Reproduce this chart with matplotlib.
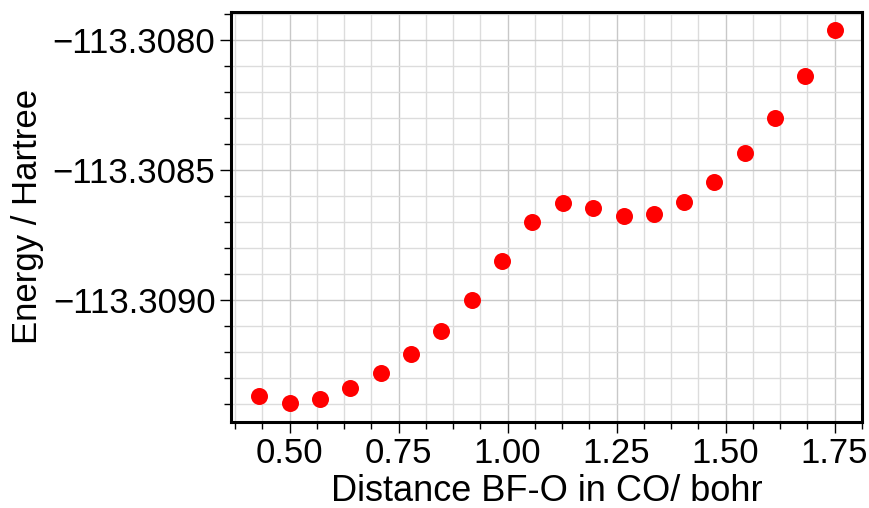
import numpy as np
import matplotlib
matplotlib.use("Agg")
import matplotlib.pyplot as plt
from matplotlib.ticker import MultipleLocator, AutoMinorLocator, ScalarFormatter

# distance BF-O in CO (bohr) and total energy (Hartree)
distance = [0.431, 0.502, 0.570, 0.639, 0.710, 0.778, 0.848, 0.918, 0.987, 1.057,
            1.126, 1.196, 1.266, 1.335, 1.404, 1.474, 1.544, 1.613, 1.682, 1.752]
energy = [-113.309371, -113.309396, -113.309381, -113.309337, -113.309280,
          -113.309207, -113.309118, -113.308999, -113.308849, -113.308700,
          -113.308626, -113.308648, -113.308677, -113.308668, -113.308625,
          -113.308547, -113.308437, -113.308299, -113.308138, -113.307964]

plt.rcParams['font.family'] = ['Liberation Sans', 'DejaVu Sans']

fig = plt.figure(figsize=(8.69, 5.08), dpi=100)
ax = fig.add_axes([0.2655, 0.170, 0.7265, 0.807])

ax.scatter(distance, energy, s=150, color='red', zorder=3, linewidths=0)

ax.set_xlim(0.365, 1.813)
ax.margins(y=0.05)

ax.xaxis.set_major_locator(MultipleLocator(0.25))
ax.xaxis.set_minor_locator(AutoMinorLocator(4))
ax.yaxis.set_major_locator(MultipleLocator(0.0005))
ax.yaxis.set_minor_locator(AutoMinorLocator(5))
fmt = ScalarFormatter(useOffset=False)
ax.yaxis.set_major_formatter(fmt)

# light grid on both major and minor ticks
ax.grid(which='major', color='#c8c8c8', linewidth=1.0)
ax.grid(which='minor', color='#dcdcdc', linewidth=1.0)
ax.set_axisbelow(True)

for sp in ax.spines.values():
    sp.set_linewidth(2.2)

ax.tick_params(which='major', length=8, width=1.0, pad=3, labelsize=25)
ax.tick_params(which='minor', length=5, width=1.0)

ax.set_xlabel("Distance BF-O in CO/ bohr", fontsize=26, labelpad=3)
ax.set_ylabel("Energy / Hartree", fontsize=25, labelpad=6)

fig.savefig("out.png", dpi=100)
